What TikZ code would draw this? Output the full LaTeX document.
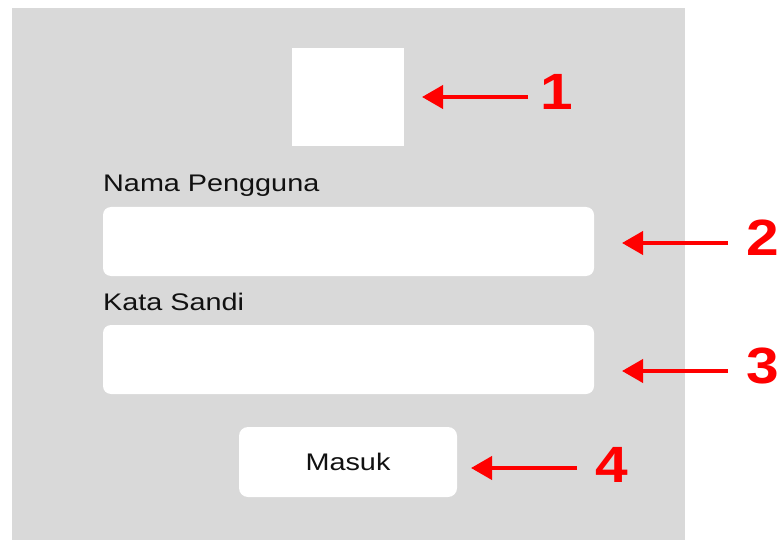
\documentclass[tikz,border=0pt]{standalone}
\usepackage{fontspec}
\setmainfont{Liberation Sans}
\newfontfamily\uifont[FakeStretch=1.2]{Liberation Sans}
\newfontfamily\numfont[FakeStretch=1.15]{Liberation Sans Bold}
\usetikzlibrary{arrows.meta}
\definecolor{panelgray}{HTML}{D9D9D9}
\definecolor{txt}{HTML}{111111}
\tikzset{
  field/.style={fill=white, draw=none, rounded corners=8pt},
  uilabel/.style={anchor=base west, inner sep=0pt, text=txt, font=\uifont\fontsize{24}{24}\selectfont},
  numlabel/.style={anchor=base, inner sep=0pt, text=red, font=\numfont\fontsize{51}{51}\selectfont},
  callout/.style={draw=red, line width=4pt, -{Triangle[length=21pt,width=23pt]}}
}
\begin{document}
\begin{tikzpicture}[x=1pt,y=-1pt]
\useasboundingbox (0,0) rectangle (779,540);
% panel
\fill[panelgray] (12,8) rectangle (685,540);
% logo placeholder
\node[fill=white, minimum width=112pt, minimum height=98pt, inner sep=0pt] (logo) at (348,97) {};
% labels and fields
\node[uilabel] (lbluser) at (103,192) {Nama Pengguna};
\node[field, minimum width=491pt, minimum height=69pt, inner sep=0pt] (user) at (348.5,241.5) {};
\node[uilabel] (lblpass) at (103,310) {Kata Sandi};
\node[field, minimum width=491pt, minimum height=69pt, inner sep=0pt] (pass) at (348.5,359.5) {};
\node[field, rounded corners=9pt, minimum width=218pt, minimum height=70pt, inner sep=0pt,
      text=txt, font=\uifont\fontsize{24}{24}\selectfont] (btn) at (348,462) {Masuk};
% numbers
\node[numlabel] (n1) at (557,110) {1};
\node[numlabel] (n2) at (763,255) {2};
\node[numlabel] (n3) at (763,383) {3};
\node[numlabel] (n4) at (612,482) {4};
% arrow endpoints
\coordinate (s1) at (528,97);   \coordinate (t1) at (422,97);
\coordinate (s2) at (728,243);  \coordinate (t2) at (622,243);
\coordinate (s3) at (728,371);  \coordinate (t3) at (622,371);
\coordinate (s4) at (577,468);  \coordinate (t4) at (471,468);
\draw[callout] (s1) -- (t1);
\draw[callout] (s2) -- (t2);
\draw[callout] (s3) -- (t3);
\draw[callout] (s4) -- (t4);
\end{tikzpicture}
\end{document}
